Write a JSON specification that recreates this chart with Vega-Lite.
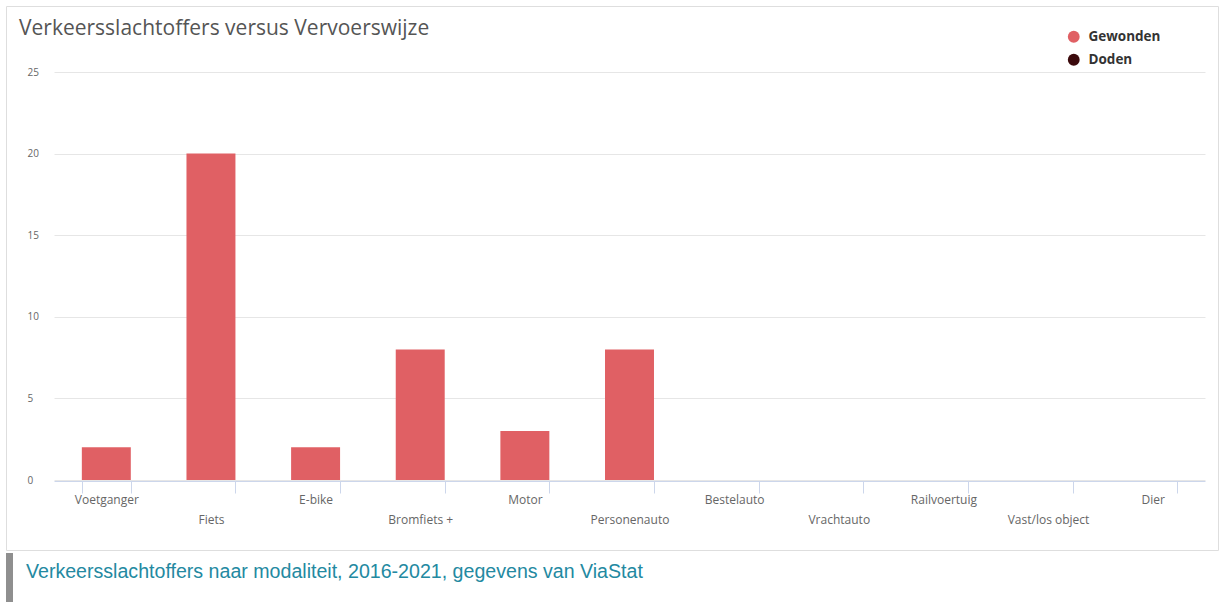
{
  "$schema": "https://vega.github.io/schema/vega-lite/v6.json",
  "padding": {"left": 5, "top": 5, "right": 0, "bottom": 0},
  "background": "white",
  "spacing": 2,
  "config": {
    "font": "Open Sans"
  },
  "vconcat": [
    {
      "width": 1212,
      "height": 544,
      "view": {"stroke": "#dedede", "strokeWidth": 1, "fill": "white"},
      "title": {
        "text": "Verkeersslachtoffers versus Vervoerswijze",
        "anchor": "start",
        "frame": "group",
        "orient": "top",
        "offset": -32,
        "baseline": "alphabetic",
        "dx": 13,
        "dy": 18,
        "font": "Open Sans",
        "fontSize": 21,
        "fontWeight": "normal",
        "color": "#555555"
      },
      "data": {
        "values": [
          {"vervoerswijze": "Voetganger", "reeks": "Gewonden", "aantal": 2},
          {"vervoerswijze": "Fiets", "reeks": "Gewonden", "aantal": 20},
          {"vervoerswijze": "E-bike", "reeks": "Gewonden", "aantal": 2},
          {"vervoerswijze": "Bromfiets +", "reeks": "Gewonden", "aantal": 8},
          {"vervoerswijze": "Motor", "reeks": "Gewonden", "aantal": 3},
          {"vervoerswijze": "Personenauto", "reeks": "Gewonden", "aantal": 8},
          {"vervoerswijze": "Bestelauto", "reeks": "Gewonden", "aantal": 0},
          {"vervoerswijze": "Vrachtauto", "reeks": "Gewonden", "aantal": 0},
          {"vervoerswijze": "Railvoertuig", "reeks": "Gewonden", "aantal": 0},
          {"vervoerswijze": "Vast/los object", "reeks": "Gewonden", "aantal": 0},
          {"vervoerswijze": "Dier", "reeks": "Gewonden", "aantal": 0}
        ]
      },
      "mark": {"type": "bar", "strokeWidth": 0},
      "encoding": {
        "x": {
          "field": "vervoerswijze",
          "type": "nominal",
          "sort": null,
          "scale": {"range": [48, 1199], "paddingInner": 0.532, "paddingOuter": 0.266},
          "axis": {
            "title": null,
            "orient": "bottom",
            "offset": -69,
            "domainColor": "#ccd6eb",
            "domainWidth": 1,
            "tickColor": "#ccd6eb",
            "tickSize": 12,
            "tickWidth": 1,
            "tickBand": "extent",
            "labelAngle": 0,
            "labelPadding": 1,
            "labelBaseline": "top",
            "labelLineHeight": 20,
            "labelFont": "Open Sans",
            "labelFontSize": 12,
            "labelColor": "#666666",
            "labelOverlap": false,
            "labelBound": false,
            "labelExpr": "indexof(['Fiets', 'Bromfiets +', 'Personenauto', 'Vrachtauto', 'Vast/los object'], datum.value) >= 0 ? ['', datum.label] : datum.label"
          }
        },
        "y": {
          "field": "aantal",
          "type": "quantitative",
          "scale": {"domain": [0, 25], "range": [474, 66], "nice": false},
          "axis": {
            "title": null,
            "orient": "left",
            "offset": -21,
            "values": [0, 5, 10, 15, 20, 25],
            "domain": false,
            "ticks": false,
            "tickSize": 0,
            "labelPadding": 0,
            "labelAlign": "left",
            "labelBaseline": "middle",
            "labelFont": "Open Sans",
            "labelFontSize": 10,
            "labelColor": "#666666",
            "grid": true,
            "gridColor": "#e6e6e6",
            "gridWidth": 1
          }
        },
        "color": {
          "field": "reeks",
          "type": "nominal",
          "scale": {"domain": ["Gewonden", "Doden"], "range": ["#e06064", "#3b0a0c"]},
          "legend": {
            "title": null,
            "orient": "none",
            "legendX": 1061,
            "legendY": 24,
            "symbolType": "circle",
            "symbolSize": 140,
            "symbolStrokeWidth": 0,
            "symbolOpacity": 1,
            "labelFont": "Open Sans",
            "labelFontSize": 13.5,
            "labelFontWeight": "bold",
            "labelColor": "#333333",
            "labelOffset": 8,
            "rowPadding": 8
          }
        }
      }
    },
    {
      "width": 7,
      "height": 49,
      "view": {"fill": "#8f8f8f", "stroke": null},
      "data": {
        "values": [
          {"bijschrift": "Verkeersslachtoffers naar modaliteit, 2016-2021, gegevens van ViaStat"}
        ]
      },
      "mark": {
        "type": "text",
        "align": "left",
        "baseline": "middle",
        "dx": 16.5,
        "dy": -6,
        "font": "Liberation Sans",
        "fontSize": 19.6,
        "color": "#2389a1"
      },
      "encoding": {
        "text": {"field": "bijschrift", "type": "nominal"}
      }
    }
  ]
}
